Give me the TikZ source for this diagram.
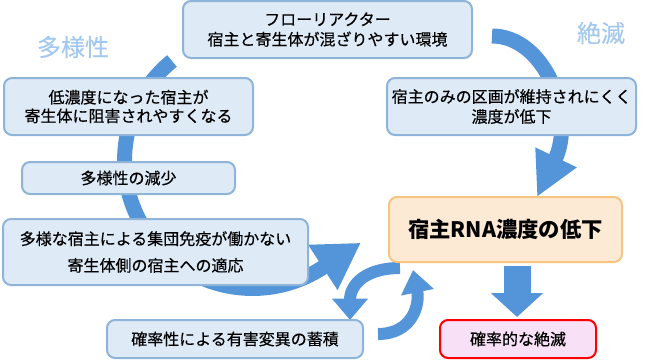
\documentclass[tikz,border=0pt]{standalone}
\usepackage{fontspec}
\setmainfont{Noto Sans CJK JP}[UprightFeatures={FakeBold=0.4}]
\usetikzlibrary{arrows.meta,backgrounds}

\definecolor{yajirushi}{RGB}{84,148,216}
\definecolor{hakoiro}{RGB}{222,234,246}
\definecolor{wakuiro}{RGB}{143,180,217}
\definecolor{midashiiro}{RGB}{164,201,238}
\definecolor{daidai}{RGB}{252,234,212}
\definecolor{daidaiwaku}{RGB}{248,196,128}
\definecolor{momo}{RGB}{248,224,246}

\tikzset{
 hako/.style={draw=wakuiro, fill=hakoiro, line width=1.5pt, rounded corners=6pt,
  align=center, inner sep=0pt, font=\fontsize{12}{15}\selectfont},
 midashi/.style={text=midashiiro, font=\fontsize{18}{20}\selectfont},
 ya/.style={draw=yajirushi, line width=11.25pt},
}

\begin{document}
\begin{tikzpicture}[x=0.75pt,y=-0.75pt]
 \useasboundingbox (0,0) rectangle (649,361); % 全体の枠

 % 左側の箱
 \node[hako, minimum width=216.75pt, minimum height=42.75pt] (flow) at (327.5,29.5) {フローリアクター\\宿主と寄生体が混ざりやすい環境}; % 上の箱
 \node[hako, minimum width=186.75pt, minimum height=42.75pt, font=\fontsize{12}{14}\selectfont] (sogai) at (128.5,106.5) {低濃度になった宿主が\\寄生体に阻害されやすくなる}; % 阻害
 \node[hako, minimum width=159.75pt, minimum height=24pt] (genshou) at (128.5,178) {多様性の減少}; % 減少
 \node[hako, minimum width=228.75pt, minimum height=49.5pt, font=\fontsize{12}{20}\selectfont] (meneki) at (155.5,252) {多様な宿主による集団免疫が働かない\\寄生体側の宿主への適応}; % 免疫
 \node[hako, minimum width=192pt, minimum height=28.5pt] (henni) at (235,339) {確率性による有害変異の蓄積}; % 変異

 % 右側の箱
 \node[hako, minimum width=186.75pt, minimum height=42.75pt] (kukaku) at (511.5,106.5) {宿主のみの区画が維持されにくく\\濃度が低下}; % 区画
 \node[hako, draw=daidaiwaku, fill=daidai, minimum width=174.75pt, minimum height=48.75pt, font=\fontsize{16}{18}\bfseries] (noudo) at (505.5,229.5) {宿主RNA濃度の低下}; % 濃度
 \node[hako, draw=red, fill=momo, minimum width=117pt, minimum height=28.5pt] (zetsu) at (518,339) {確率的な絶滅}; % 絶滅

 % 見出し
 \node[midashi] (tayosei) at (73,47) {多様性};
 \node[midashi] (zetsumetsu) at (601,33) {絶滅};

 \begin{scope}[on background layer]
  \coordinate (tayoS) at (172,61); % 左の弧の始点
  \coordinate (zetsuS) at (492,36); % 右の弧の始点
  \coordinate (shitaS) at (517,266); % 下向き矢印
  \coordinate (shitaE) at (517,317);
  \coordinate (wa1S) at (400,268); % 小さい弧
  \coordinate (wa1E) at (350,320);
  \coordinate (wa2S) at (378,334);
  \coordinate (wa2E) at (413,270);

  \draw[ya, -{Triangle[length=34pt,width=38pt]}] (tayoS) arc[start angle=231, end angle=57, radius=128] -- ++(-33:46); % 多様性の弧
  \draw[ya, -{Triangle[length=33pt,width=32pt]}] (zetsuS) .. controls (545,36) and (576,116) .. (537,197); % 絶滅の弧
  \draw[ya, line width=20.25pt, -{Triangle[length=18pt,width=38.25pt]}] (shitaS) -- (shitaE); % 下向き
  \draw[ya, line width=9pt, -{Triangle[length=16pt,width=26pt]}] (wa1S) .. controls (365,268) and (350,285) .. (wa1E);
  \draw[ya, line width=9pt, -{Triangle[length=17pt,width=24pt]}] (wa2S) .. controls (412,334) and (420,305) .. (wa2E);
 \end{scope}
\end{tikzpicture}
\end{document}
